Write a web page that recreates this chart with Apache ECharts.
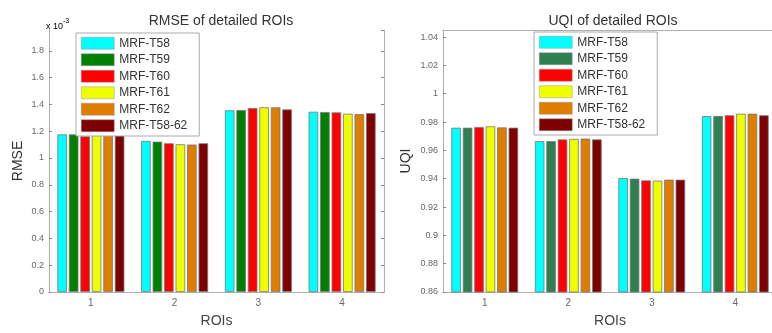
<!DOCTYPE html>
<html>
<head>
<meta charset="utf-8">
<script src="https://cdn.jsdelivr.net/npm/echarts@6/dist/echarts.min.js"></script>
<style>
  html, body { margin: 0; padding: 0; background: #fff; overflow: hidden; }
  /* the right axes box runs past the picture's right edge, so the canvas is a little wider than the window */
  #chart { width: 780px; height: 333px; }
</style>
</head>
<body>
<div id="chart"></div>
<script>
const rois = ['1', '2', '3', '4'];
const methods = ['MRF-T58', 'MRF-T59', 'MRF-T60', 'MRF-T61', 'MRF-T62', 'MRF-T58-62'];

// RMSE, in units of 1e-3, one row per method, one value per ROI
const rmseT58 = [1.176, 1.127, 1.356, 1.345];
const rmseT59 = [1.176, 1.122, 1.358, 1.343];
const rmseT60 = [1.162, 1.110, 1.373, 1.340];
const rmseT61 = [1.170, 1.102, 1.378, 1.330];
const rmseT62 = [1.180, 1.100, 1.378, 1.328];
const rmseT5862 = [1.172, 1.110, 1.362, 1.335];

// UQI
const uqiT58 = [0.9760, 0.9665, 0.9405, 0.9842];
const uqiT59 = [0.9760, 0.9665, 0.9400, 0.9843];
const uqiT60 = [0.9765, 0.9677, 0.9388, 0.9848];
const uqiT61 = [0.9770, 0.9681, 0.9386, 0.9859];
const uqiT62 = [0.9762, 0.9683, 0.9393, 0.9859];
const uqiT5862 = [0.9760, 0.9677, 0.9393, 0.9848];

const rmseColors = ['#00FFFF', '#007F00', '#FF0000', '#F0FF00', '#DE7D00', '#7F0000'];
const uqiColors = ['#00FFFF', '#2E8050', '#FF0000', '#F0FF00', '#DE7D00', '#7F0000'];

const rmseData = [rmseT58, rmseT59, rmseT60, rmseT61, rmseT62, rmseT5862];
const uqiData = [uqiT58, uqiT59, uqiT60, uqiT61, uqiT62, uqiT5862];

const font = 'Liberation Sans, Arial, sans-serif';
const axisGrey = '#b0b0b0';
const labelGrey = '#666';

function bottomAxis(gridIndex) {
  return {
    type: 'category',
    gridIndex,
    data: rois,
    name: 'ROIs',
    nameLocation: 'middle',
    nameGap: 22,
    nameTextStyle: { fontFamily: font, fontSize: 14, color: '#444' },
    axisLine: { lineStyle: { color: axisGrey } },
    axisTick: { inside: true, alignWithLabel: true, length: 3, lineStyle: { color: '#888' } },
    axisLabel: { fontFamily: font, fontSize: 10, color: labelGrey, margin: 6 },
  };
}

function topAxis(gridIndex) {
  return {
    type: 'category',
    gridIndex,
    data: rois,
    position: 'top',
    axisLine: { lineStyle: { color: axisGrey } },
    axisTick: { inside: true, alignWithLabel: true, length: 3, lineStyle: { color: '#888' } },
    axisLabel: { show: false },
  };
}

function leftAxis(gridIndex, name, min, max, interval, nameGap) {
  return {
    type: 'value',
    gridIndex,
    min,
    max,
    interval,
    name,
    nameLocation: 'middle',
    nameGap,
    nameTextStyle: { fontFamily: font, fontSize: 14, color: '#333' },
    axisLine: { show: true, lineStyle: { color: axisGrey } },
    axisTick: { show: true, inside: true, length: 3, lineStyle: { color: '#888' } },
    axisLabel: { fontFamily: font, fontSize: 9, color: labelGrey, margin: 5, showMaxLabel: false },
    splitLine: { show: false },
  };
}

function rightAxis(gridIndex, min, max, interval) {
  return {
    type: 'value',
    gridIndex,
    min,
    max,
    interval,
    position: 'right',
    axisLine: { show: true, lineStyle: { color: axisGrey } },
    axisTick: { show: true, inside: true, length: 3, lineStyle: { color: '#888' } },
    axisLabel: { show: false },
    splitLine: { show: false },
  };
}

const series = [];
methods.forEach((name, i) => {
  series.push({
    name,
    type: 'bar',
    xAxisIndex: 0,
    yAxisIndex: 0,
    barGap: '20%',
    barCategoryGap: '20%',
    itemStyle: { color: rmseColors[i], borderColor: '#777', borderWidth: 0.8 },
    data: rmseData[i],
  });
});
methods.forEach((name, i) => {
  series.push({
    name: 'U:' + name,
    type: 'bar',
    xAxisIndex: 2,
    yAxisIndex: 2,
    barGap: '20%',
    barCategoryGap: '20%',
    itemStyle: { color: uqiColors[i], borderColor: '#777', borderWidth: 0.8 },
    data: uqiData[i],
  });
});

const legendCommon = {
  orient: 'vertical',
  itemWidth: 33,
  itemHeight: 12,
  itemGap: 4,
  padding: [4, 12, 4, 5],
  borderColor: '#aaa',
  borderWidth: 1,
  backgroundColor: '#fff',
  textStyle: { fontFamily: font, fontSize: 12, color: '#333' },
  itemStyle: { borderColor: '#999', borderWidth: 0.5 },
  icon: 'rect',
};

const chart = echarts.init(document.getElementById('chart'), null, { renderer: 'canvas' });
chart.setOption({
  animation: false,
  backgroundColor: '#fff',
  title: [
    { text: 'RMSE of detailed ROIs', left: 216, top: 9, textAlign: 'center',
      textStyle: { fontFamily: font, fontSize: 14, fontWeight: 'normal', color: '#333' } },
    { text: 'UQI of detailed ROIs', left: 608, top: 9, textAlign: 'center',
      textStyle: { fontFamily: font, fontSize: 14, fontWeight: 'normal', color: '#333' } },
  ],
  graphic: [{
    type: 'text',
    left: 46,
    top: 18,
    style: {
      text: '{a|x 10}{b|-3}',
      rich: {
        a: { fontFamily: font, fontSize: 9, color: labelGrey, padding: [4, 0, 0, 0] },
        b: { fontFamily: font, fontSize: 7, color: labelGrey, verticalAlign: 'top' },
      },
    },
  }],
  legend: [
    { ...legendCommon, left: 76, top: 33, data: methods },
    { ...legendCommon, left: 534, top: 32, data: methods.map((m) => 'U:' + m),
      formatter: (n) => n.slice(2) },
  ],
  grid: [
    { left: 49, width: 335, top: 30, bottom: 37 },
    { left: 443, width: 334, top: 30, bottom: 37 },
  ],
  xAxis: [bottomAxis(0), topAxis(0), bottomAxis(1), topAxis(1)],
  yAxis: [
    leftAxis(0, 'RMSE', 0, 1.955, 0.2, 24),
    rightAxis(0, 0, 1.955, 0.2),
    leftAxis(1, 'UQI', 0.86, 1.045, 0.02, 30),
    rightAxis(1, 0.86, 1.045, 0.02),
  ],
  series,
});
</script>
</body>
</html>
